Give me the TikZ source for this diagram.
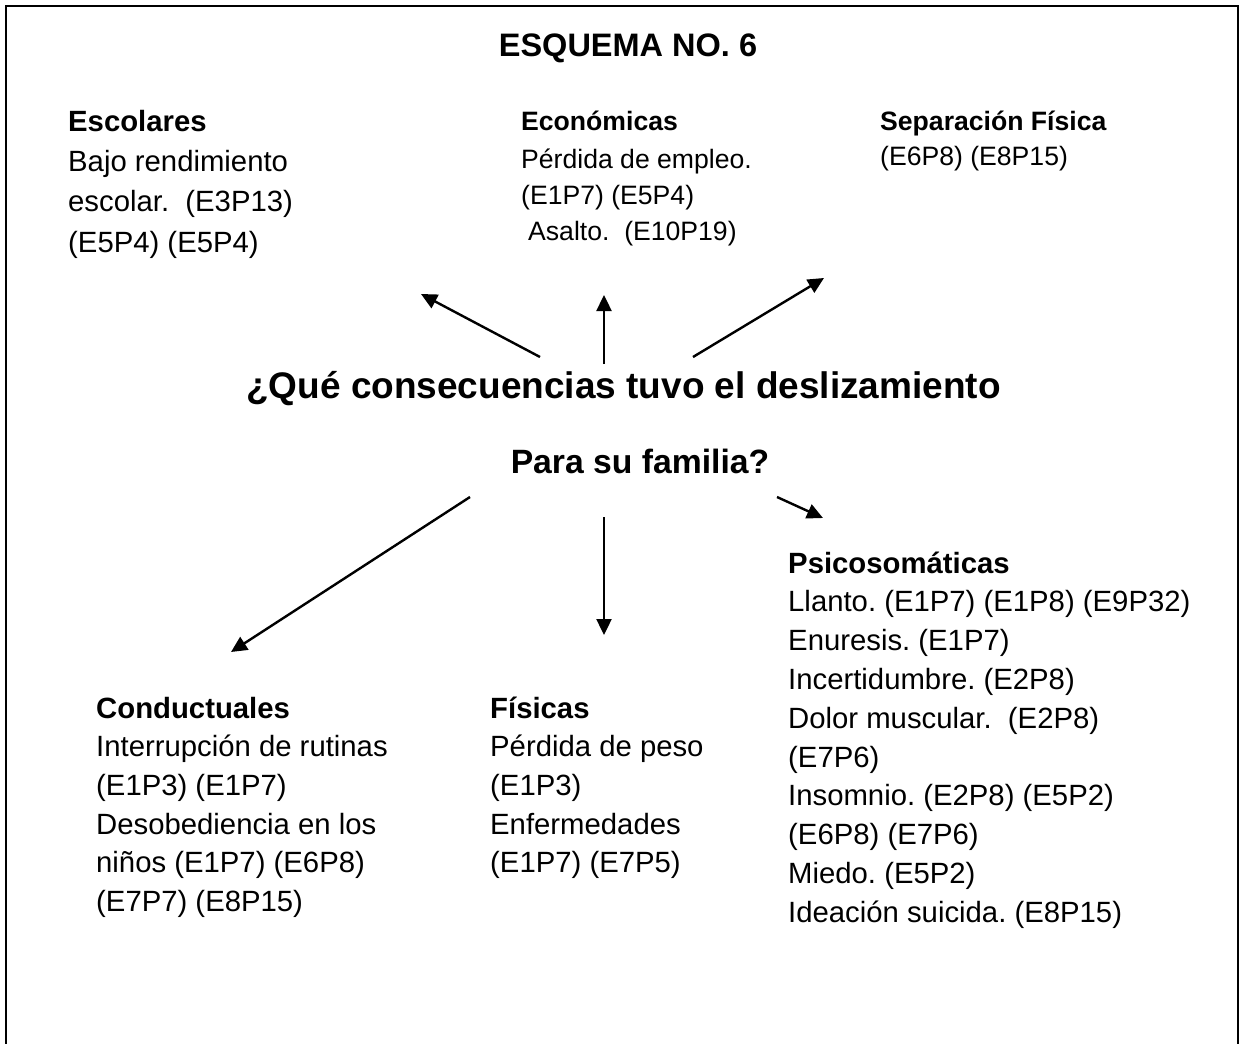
\documentclass[tikz,border=0pt]{standalone}
\usepackage{fontspec}
\setmainfont{Liberation Sans}
\usetikzlibrary{arrows.meta}
\frenchspacing
\begin{document}
\begin{tikzpicture}[x=1pt,y=-1pt,
  txt/.style={anchor=base west, inner sep=0pt, font=\fontsize{29.3}{35}\selectfont},
  txthead/.style={txt, font=\fontsize{29.3}{35}\selectfont\bfseries},
  smalltxt/.style={anchor=base west, inner sep=0pt, font=\fontsize{26.6}{32}\selectfont},
  smallhead/.style={smalltxt, font=\fontsize{26.6}{32}\selectfont\bfseries},
  arr/.style={line width=2.4pt, -{Triangle[length=16pt,width=15pt]}},
  frameline/.style={line width=2.6pt}
]
\useasboundingbox (0,0) rectangle (1243,1044);
% frame (open at the bottom)
\coordinate (fbl) at (6,1044);
\coordinate (ftl) at (6,6);
\coordinate (ftr) at (1238,6);
\coordinate (fbr) at (1238,1044);
\draw[frameline] (fbl) -- (ftl) -- (ftr) -- (fbr);

% title
\node[anchor=base, inner sep=0pt, font=\fontsize{32.5}{38}\selectfont\bfseries] (title) at (628,56) {ESQUEMA NO. 6};

% central question
\node[anchor=base, inner sep=0pt, font=\fontsize{37}{42}\selectfont\bfseries] (q1) at (623.5,398) {¿Qué consecuencias tuvo el deslizamiento};
\node[anchor=base, inner sep=0pt, font=\fontsize{33.7}{40}\selectfont\bfseries] (q2) at (640,473) {Para su familia?};

% Escolares
\node[txthead] (esc0) at (68,131) {Escolares};
\node[txt] (esc1) at (68,171) {Bajo rendimiento};
\node[txt] (esc2) at (68,211.5) {escolar.~ (E3P13)};
\node[txt] (esc3) at (68,252) {(E5P4) (E5P4)};

% Economicas
\node[smallhead] (eco0) at (521,130) {Económicas};
\node[smalltxt] (eco1) at (521,168) {Pérdida de empleo.};
\node[smalltxt] (eco2) at (521,204) {(E1P7) (E5P4)};
\node[smalltxt] (eco3) at (528,240) {Asalto.~ (E10P19)};

% Separacion fisica
\node[smallhead] (sep0) at (880,130) {Separación Física};
\node[smalltxt] (sep1) at (880,165) {(E6P8) (E8P15)};

% Conductuales
\node[txthead] (con0) at (96,718) {Conductuales};
\node[txt] (con1) at (96,756.7) {Interrupción de rutinas};
\node[txt] (con2) at (96,795.4) {(E1P3) (E1P7)};
\node[txt] (con3) at (96,834.1) {Desobediencia en los};
\node[txt] (con4) at (96,872.8) {niños (E1P7) (E6P8)};
\node[txt] (con5) at (96,911.5) {(E7P7) (E8P15)};

% Fisicas
\node[txthead] (fis0) at (490,718) {Físicas};
\node[txt] (fis1) at (490,756.7) {Pérdida de peso};
\node[txt] (fis2) at (490,795.4) {(E1P3)};
\node[txt] (fis3) at (490,834.1) {Enfermedades};
\node[txt] (fis4) at (490,872.8) {(E1P7) (E7P5)};

% Psicosomaticas
\node[txthead] (psi0) at (788,573) {Psicosomáticas};
\node[txt] (psi1) at (788,611.8) {Llanto. (E1P7) (E1P8) (E9P32)};
\node[txt] (psi2) at (788,650.6) {Enuresis. (E1P7)};
\node[txt] (psi3) at (788,689.4) {Incertidumbre. (E2P8)};
\node[txt] (psi4) at (788,728.2) {Dolor muscular.~ (E2P8)};
\node[txt] (psi5) at (788,767) {(E7P6)};
\node[txt] (psi6) at (788,805.8) {Insomnio. (E2P8) (E5P2)};
\node[txt] (psi7) at (788,844.6) {(E6P8) (E7P6)};
\node[txt] (psi8) at (788,883.4) {Miedo. (E5P2)};
\node[txt] (psi9) at (788,922.2) {Ideación suicida. (E8P15)};

% arrow end points
\coordinate (s1) at (540,357);
\coordinate (e1) at (421,294);
\coordinate (s2) at (604,364);
\coordinate (e2) at (604,295);
\coordinate (s3) at (693,357);
\coordinate (e3) at (824,278);
\coordinate (s4) at (470,497);
\coordinate (e4) at (231,652);
\coordinate (s5) at (604,517);
\coordinate (e5) at (604,635);
\coordinate (s6) at (777,497);
\coordinate (e6) at (823,518);

\draw[arr] (s1) -- (e1);
\draw[arr] (s2) -- (e2);
\draw[arr] (s3) -- (e3);
\draw[arr] (s4) -- (e4);
\draw[arr] (s5) -- (e5);
\draw[arr] (s6) -- (e6);
\end{tikzpicture}
\end{document}
